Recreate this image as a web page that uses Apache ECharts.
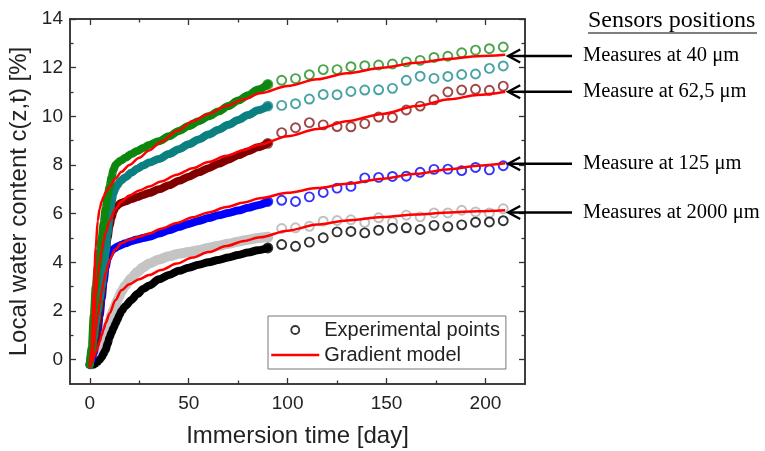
<!DOCTYPE html>
<html><head><meta charset="utf-8">
<script src="https://cdn.jsdelivr.net/npm/echarts@6/dist/echarts.min.js"></script>
<style>html,body{margin:0;padding:0;background:#fff}#c{width:765px;height:451px}</style>
</head><body><div id="c"></div>
<script>
// ---- data ----
const denseDays  = [0,1,2,3,4,5,6,7,8,9,10,11,12,13,14,15,16,18,21,24,27,30,35,40,45,50,55,60,65,70,75,80,85,90];
const denseGreen = [-0.2,0.5,1.8,3.0,3.8,4.4,5.0,5.6,6.2,6.7,7.1,7.5,7.8,8.0,8.08,8.15,8.2,8.3,8.45,8.58,8.7,8.82,8.98,9.18,9.4,9.6,9.8,10.0,10.2,10.42,10.65,10.87,11.1,11.32];
const denseTeal  = [-0.2,0.3,0.9,1.5,2.0,2.5,3.0,3.6,4.4,5.2,5.9,6.5,6.85,7.05,7.18,7.3,7.38,7.5,7.68,7.85,7.98,8.1,8.25,8.45,8.65,8.85,9.05,9.25,9.45,9.65,9.85,10.05,10.25,10.42];
const denseDarkRed = [-0.2,0.2,0.6,1.0,1.5,2.1,2.8,3.6,4.4,5.0,5.5,5.85,6.1,6.25,6.33,6.4,6.45,6.5,6.6,6.68,6.77,6.85,7.0,7.17,7.35,7.52,7.7,7.87,8.05,8.22,8.4,8.57,8.73,8.9];
const denseBlue  = [-0.2,0.0,0.3,0.7,1.2,1.8,2.5,3.2,3.8,4.15,4.35,4.47,4.55,4.6,4.65,4.68,4.72,4.78,4.87,4.94,5.0,5.05,5.18,5.32,5.45,5.58,5.7,5.82,5.93,6.03,6.13,6.24,6.35,6.48];
const denseGray  = [-0.2,-0.2,-0.1,0.0,0.1,0.3,0.6,0.85,1.1,1.35,1.6,1.85,2.05,2.25,2.45,2.62,2.8,3.05,3.35,3.6,3.8,3.95,4.12,4.25,4.35,4.42,4.5,4.6,4.68,4.76,4.85,4.93,5.0,5.05];
const denseBlack = [-0.2,-0.2,-0.2,-0.15,-0.1,0.0,0.1,0.25,0.4,0.65,0.9,1.12,1.3,1.48,1.65,1.83,2.0,2.2,2.45,2.7,2.9,3.05,3.3,3.48,3.65,3.78,3.9,4.0,4.1,4.2,4.3,4.4,4.5,4.59];

const circleDays = [90,97,104,111,118,125,132,139,146,153,160,167,174,181,188,195,202,209];
const circGreen  = [11.31,11.48,11.55,11.71,11.92,11.92,12.04,12.08,12.11,12.15,12.24,12.30,12.42,12.47,12.61,12.72,12.78,12.85];
const circTeal   = [10.42,10.45,10.52,10.71,10.90,10.89,11.02,11.08,11.09,11.15,11.48,11.65,11.56,11.64,11.72,11.74,11.97,12.07];
const circDarkRed= [8.89,9.33,9.53,9.74,9.65,9.58,9.57,9.70,9.97,9.95,10.26,10.42,10.68,11.00,11.08,11.11,11.07,11.24];
const circBlue   = [6.50,6.55,6.50,6.69,6.87,7.05,7.12,7.47,7.49,7.53,7.54,7.70,7.82,7.83,7.77,7.90,7.80,7.97];
const circGray   = [5.03,5.39,5.42,5.48,5.69,5.72,5.75,5.64,5.83,5.66,5.94,5.87,6.03,6.03,6.14,6.07,6.03,6.20];
const circBlack  = [4.59,4.73,4.66,4.83,5.01,5.25,5.27,5.21,5.32,5.40,5.42,5.35,5.52,5.46,5.54,5.65,5.66,5.71];

const modelDays = [0,1,2,3,4,5,6,7,8,10,13,16,20,25,30,36,44,52,60,69,78,86,100,115,130,148,165,182,196,210];
const model40   = [-0.3,0.5,2.8,4.6,5.7,6.2,6.5,6.7,6.88,7.1,7.45,7.72,8.0,8.3,8.6,8.95,9.4,9.8,10.1,10.42,10.7,10.95,11.25,11.52,11.77,12.0,12.2,12.37,12.47,12.53];
const model62   = [-0.3,0.3,1.5,2.6,3.4,4.0,4.5,4.9,5.2,5.7,6.2,6.5,6.75,6.95,7.12,7.32,7.6,7.87,8.12,8.38,8.62,8.84,9.18,9.48,9.8,10.1,10.42,10.7,10.88,11.01];
const model125  = [-0.3,0.0,0.6,1.3,1.8,2.3,2.8,3.2,3.55,4.1,4.55,4.78,4.93,5.05,5.18,5.38,5.62,5.85,6.05,6.27,6.46,6.63,6.86,7.05,7.23,7.44,7.64,7.83,7.97,8.07];
const model2000 = [-0.3,-0.1,0.1,0.3,0.5,0.75,1.0,1.25,1.5,1.9,2.45,2.85,3.1,3.3,3.48,3.68,3.95,4.2,4.42,4.67,4.88,5.03,5.3,5.55,5.72,5.86,5.97,6.05,6.1,6.14];

const xTicks = [0,50,100,150,200];
const xMinorTicks = [25,75,125,175];
const yTicks = [0,2,4,6,8,10,12,14];
const yMinorTicks = [1,3,5,7,9,11,13];

const sensorLabels = ['Measures at 40 \u03bcm','Measure at 62,5 \u03bcm','Measure at 125 \u03bcm','Measures at 2000 \u03bcm'];
const sensorValues = [12.48, 11.01, 8.05, 6.05];
const sensorArrowDay = 211.5;

// ---- chart ----
const zip = (xs, ys) => xs.map((x, i) => [x, ys[i]]);
const FONT = '"Liberation Sans", Arial, sans-serif';
const SERIF = '"Liberation Serif", "Times New Roman", serif';
const AX = '#333';
const chart = echarts.init(document.getElementById('c'), null, {renderer: 'canvas'});

function xAx(pos, ticks, len, main) {
  return {
    type: 'value', min: -10, max: 220, position: pos,
    axisLine: {onZero: false, lineStyle: {color: AX, width: 1.5}},
    axisTick: {inside: true, length: len, customValues: ticks, lineStyle: {color: AX, width: 1.3}},
    axisLabel: main ? {customValues: ticks, fontSize: 19, color: '#222', margin: 10, fontFamily: FONT} : {show: false},
    splitLine: {show: false},
    name: main ? 'Immersion time [day]' : '', nameLocation: 'middle', nameGap: 40,
    nameTextStyle: {fontSize: 24, color: '#222', fontFamily: FONT}
  };
}
function yAx(pos, ticks, len, main) {
  return {
    type: 'value', min: -1, max: 14, position: pos,
    axisLine: {onZero: false, lineStyle: {color: AX, width: 1.5}},
    axisTick: {inside: true, length: len, customValues: ticks, lineStyle: {color: AX, width: 1.3}},
    axisLabel: main ? {customValues: ticks, fontSize: 19, color: '#222', margin: 7, fontFamily: FONT} : {show: false},
    splitLine: {show: false},
    name: main ? 'Local water content c(z,t) [%]' : '', nameLocation: 'middle', nameGap: 27,
    nameTextStyle: {fontSize: 24, color: '#222', fontFamily: FONT}
  };
}

function band(name, days, vals, color, width) {
  return {name, type: 'line', data: zip(days, vals), symbol: 'none', smooth: 0.3, smoothMonotone: 'x',
    lineStyle: {color, width, cap: 'round', join: 'round'}, silent: true, animation: false};
}
function circles(name, vals, color) {
  return {name, type: 'scatter', data: zip(circleDays, vals), symbol: 'circle', symbolSize: 9,
    itemStyle: {color: '#fff', borderColor: color, borderWidth: 1.9}, silent: true, animation: false};
}
function model(vals) {
  return {name: 'Gradient model', type: 'line', data: zip(modelDays, vals), symbol: 'none', smooth: 0.3, smoothMonotone: 'x',
    lineStyle: {color: '#ff0000', width: 2.5}, itemStyle: {color: '#ff0000'}, silent: true, animation: false};
}

const option = {
  animation: false,
  backgroundColor: '#fff',
  textStyle: {fontFamily: FONT},
  grid: {left: 70, right: 240, top: 19, bottom: 67, containLabel: false, outerBoundsMode: 'none'},
  xAxis: [xAx('bottom', xTicks, 6, true), xAx('top', xTicks, 6, false), xAx('bottom', xMinorTicks, 3.5, false), xAx('top', xMinorTicks, 3.5, false)],
  yAxis: [yAx('left', yTicks, 6, true), yAx('right', yTicks, 6, false), yAx('left', yMinorTicks, 3.5, false), yAx('right', yMinorTicks, 3.5, false)],
  legend: {
    left: 268, top: 316, orient: 'vertical', selectedMode: false,
    itemWidth: 48, itemHeight: 8, itemGap: 3, padding: [3, 6, 3, 2],
    borderColor: '#777', borderWidth: 1, backgroundColor: '#fff',
    textStyle: {fontSize: 20, color: '#222', fontFamily: FONT, lineHeight: 22},
    data: [
      {name: 'Experimental points', icon: 'circle', itemStyle: {color: '#fff', borderColor: '#000', borderWidth: 1.8}},
      {name: 'Gradient model', itemStyle: {opacity: 0}, lineStyle: {color: '#ff0000', width: 2.5}}
    ]
  },
  series: [
    {name: 'Experimental points', type: 'scatter', data: [], symbol: 'circle', itemStyle: {color: '#fff', borderColor: '#000', borderWidth: 1.8}},
    band('gray band', denseDays, denseGray, '#c4c4c4', 10),
    band('black band', denseDays, denseBlack, '#000000', 8),
    band('blue band', denseDays, denseBlue, '#0000ff', 8),
    band('darkred band', denseDays, denseDarkRed, '#800000', 8),
    band('teal band', denseDays, denseTeal, '#0a8080', 8),
    band('green band', denseDays, denseGreen, '#0c860c', 8),
    circles('gray pts', circGray, '#b0b0b0'),
    circles('black pts', circBlack, '#000'),
    circles('blue pts', circBlue, '#0000ff'),
    circles('darkred pts', circDarkRed, '#871818'),
    circles('teal pts', circTeal, '#1a8c8c'),
    circles('green pts', circGreen, '#1a8e1a'),
    model(model2000), model(model125), model(model62), model(model40)
  ]
};
chart.setOption(option);

// annotations (sensor positions) placed through the axes
const tipX = chart.convertToPixel({xAxisIndex: 0}, sensorArrowDay);
const g = [
  {type: 'text', x: 588, y: 21, style: {text: 'Sensors positions', font: '24px ' + SERIF, fill: '#000', verticalAlign: 'middle'}},
  {type: 'line', shape: {x1: 588, y1: 33, x2: 757, y2: 33}, style: {stroke: '#000', lineWidth: 1.2}}
];
sensorValues.forEach((v, i) => {
  const y = chart.convertToPixel({yAxisIndex: 0}, v);
  g.push({type: 'line', shape: {x1: 572, y1: y, x2: tipX + 1, y2: y}, style: {stroke: '#000', lineWidth: 2.4}, z: 100});
  g.push({type: 'polyline', shape: {points: [[tipX + 12, y - 6.5], [tipX, y], [tipX + 12, y + 6.5]]}, style: {stroke: '#000', lineWidth: 2.4, fill: null}, z: 100});
  g.push({type: 'text', x: 583, y: y, style: {text: sensorLabels[i], font: '20.5px ' + SERIF, fill: '#000', verticalAlign: 'middle'}, z: 100});
});
chart.setOption({graphic: g});
</script>
</body></html>
